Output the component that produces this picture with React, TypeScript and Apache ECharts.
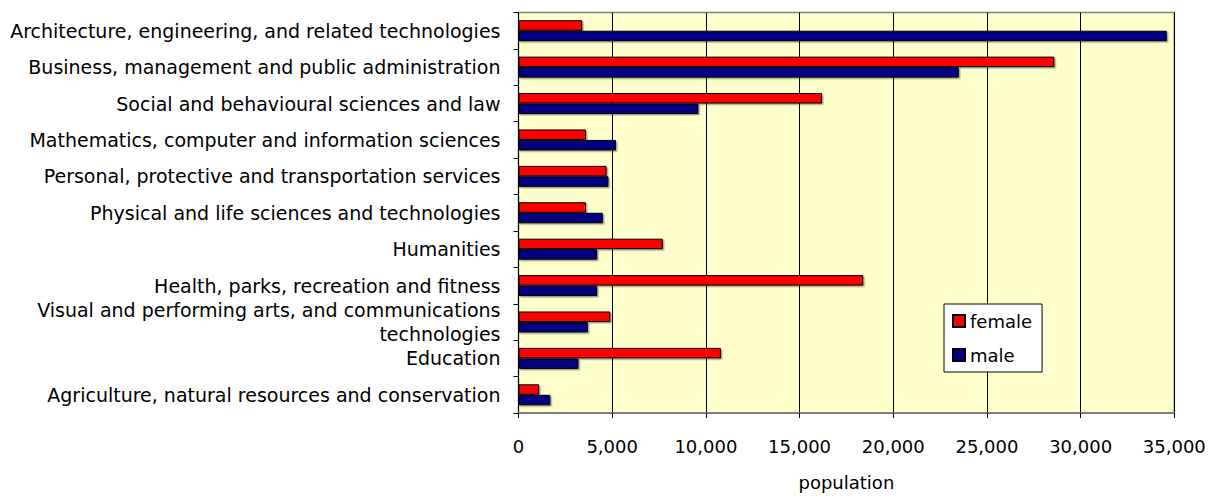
import React, { useEffect, useRef } from "react";
import * as echarts from "echarts";

const categories = [
  "Architecture, engineering, and related technologies",
  "Business, management and public administration",
  "Social and behavioural sciences and law",
  "Mathematics, computer and information sciences",
  "Personal, protective and transportation services",
  "Physical and life sciences and technologies",
  "Humanities",
  "Health, parks, recreation and fitness",
  "Visual and performing arts, and communications\ntechnologies",
  "Education",
  "Agriculture, natural resources and conservation",
];

const female = [3400, 28600, 16200, 3600, 4700, 3600, 7700, 18400, 4900, 10800, 1100];
const male = [34600, 23500, 9600, 5200, 4800, 4500, 4200, 4200, 3700, 3200, 1700];

const xTicks = { min: 0, max: 35000, interval: 5000 };
const FONT = "DejaVu Sans";

export default function App() {
  const ref = useRef<HTMLDivElement>(null);
  useEffect(() => {
    if (!ref.current) return;
    const chart = echarts.init(ref.current, undefined, { renderer: "svg" });
    const barShadow = {
      shadowColor: "rgba(0,0,0,0.35)",
      shadowBlur: 0,
      shadowOffsetX: 1.5,
      shadowOffsetY: 1.5,
    };
    chart.setOption({
      animation: false,
      backgroundColor: "#ffffff",
      textStyle: { fontFamily: FONT },
      grid: {
        left: 518.5,
        right: 48.7,
        top: 12.5,
        bottom: 74.3,
        show: true,
        backgroundColor: "#FFFFCC",
        borderColor: "#808080",
        borderWidth: 1.5,
      },
      legend: {
        data: ["female", "male"],
        orient: "vertical",
        left: 944,
        top: 304,
        padding: [8, 10, 8, 8],
        itemWidth: 12,
        itemHeight: 12,
        itemGap: 16,
        backgroundColor: "#ffffff",
        borderColor: "#000000",
        borderWidth: 1,
        icon: "rect",
        textStyle: { fontFamily: FONT, fontSize: 18, color: "#000", lineHeight: 18 },
      },
      xAxis: {
        type: "value",
        min: xTicks.min,
        max: xTicks.max,
        interval: xTicks.interval,
        name: "population",
        nameLocation: "middle",
        nameGap: 60,
        nameTextStyle: { fontFamily: FONT, fontSize: 18, color: "#000" },
        axisLine: { show: true, lineStyle: { color: "#808080", width: 2 } },
        axisTick: { show: true, length: 5, lineStyle: { color: "#000" } },
        axisLabel: {
          fontFamily: FONT,
          fontSize: 18,
          color: "#000",
          margin: 24,
          formatter: (v: number) => v.toLocaleString("en-US"),
        },
        splitLine: { show: true, lineStyle: { color: "#000", width: 1 } },
      },
      yAxis: {
        type: "category",
        inverse: true,
        data: categories,
        axisLine: { show: true, lineStyle: { color: "#000", width: 1 } },
        axisTick: { show: true, length: 5, lineStyle: { color: "#000" } },
        axisLabel: {
          fontFamily: FONT,
          fontSize: 19,
          color: "#000",
          margin: 18,
          lineHeight: 24,
          align: "right",
        },
      },
      series: [
        {
          name: "female",
          type: "bar",
          data: female,
          barWidth: 10.5,
          barGap: "0%",
          itemStyle: { color: "#FF0000", borderColor: "#000", borderWidth: 1, ...barShadow },
        },
        {
          name: "male",
          type: "bar",
          data: male,
          barWidth: 10.5,
          barGap: "0%",
          itemStyle: { color: "#000080", borderColor: "#000", borderWidth: 1, ...barShadow },
        },
      ],
    });
    return () => chart.dispose();
  }, []);
  return (
    <div
      ref={ref}
      style={{ position: "fixed", left: 0, top: 0, width: 1223, height: 496 }}
    />
  );
}
